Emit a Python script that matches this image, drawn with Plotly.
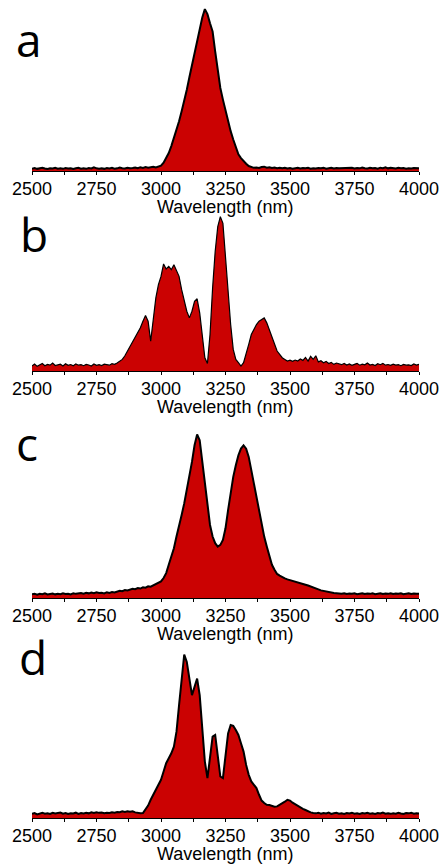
import plotly.graph_objects as go

# wavelength grid (nm), 10 nm spacing
wavelength = list(range(2500, 4001, 10))

tick_vals = [2500, 2750, 3000, 3250, 3500, 3750, 4000]
tick_text = ["2500", "2750", "3000", "3250", "3500", "3750", "4000"]
panel_labels = ["a", "b", "c", "d"]
axis_title = "Wavelength (nm)"

spec_a = [
    0.014, 0.018, 0.013, 0.016, 0.020, 0.015, 0.012, 0.017, 0.015, 0.019,
    0.014, 0.016, 0.013, 0.018, 0.015, 0.017, 0.012, 0.016, 0.019, 0.014,
    0.016, 0.013, 0.018, 0.015, 0.022, 0.016, 0.014, 0.017, 0.013, 0.018,
    0.015, 0.019, 0.014, 0.016, 0.021, 0.017, 0.015, 0.020, 0.016, 0.018,
    0.021, 0.017, 0.023, 0.019, 0.024, 0.020, 0.022, 0.026, 0.021, 0.025,
    0.032, 0.050, 0.078, 0.108, 0.150, 0.198, 0.248, 0.300, 0.360, 0.420,
    0.490, 0.565, 0.640, 0.710, 0.780, 0.850, 0.925, 0.975, 0.945, 0.890,
    0.840, 0.720, 0.600, 0.500, 0.430, 0.360, 0.300, 0.240, 0.190, 0.140,
    0.100, 0.078, 0.058, 0.044, 0.030, 0.022, 0.019, 0.021, 0.018, 0.024,
    0.026, 0.020, 0.022, 0.018, 0.021, 0.017, 0.019, 0.016, 0.020, 0.015,
    0.018, 0.014, 0.017, 0.020, 0.015, 0.018, 0.016, 0.019, 0.014, 0.017,
    0.015, 0.018, 0.016, 0.020, 0.014, 0.017, 0.019, 0.015, 0.018, 0.016,
    0.017, 0.014, 0.019, 0.016, 0.020, 0.015, 0.018, 0.016, 0.021, 0.017,
    0.015, 0.019, 0.016, 0.018, 0.014, 0.020, 0.017, 0.022, 0.016, 0.019,
    0.017, 0.015, 0.019, 0.016, 0.018, 0.014, 0.017, 0.015, 0.018, 0.016,
    0.017,
]

spec_b = [
    0.030, 0.042, 0.028, 0.038, 0.045, 0.032, 0.040, 0.035, 0.048, 0.033,
    0.036, 0.041, 0.030, 0.044, 0.034, 0.039, 0.031, 0.043, 0.035, 0.038,
    0.032, 0.040, 0.036, 0.030, 0.042, 0.034, 0.038, 0.033, 0.041, 0.037,
    0.035, 0.044, 0.040, 0.048, 0.058, 0.070, 0.092, 0.120, 0.150, 0.170,
    0.200, 0.225, 0.260, 0.300, 0.335, 0.300, 0.180, 0.310, 0.440, 0.520,
    0.570, 0.645, 0.615, 0.630, 0.610, 0.640, 0.605, 0.570, 0.490, 0.420,
    0.360, 0.320, 0.360, 0.420, 0.435, 0.350, 0.200, 0.080, 0.045, 0.220,
    0.500, 0.720, 0.870, 0.930, 0.890, 0.680, 0.450, 0.280, 0.130, 0.070,
    0.050, 0.030, 0.050, 0.100, 0.160, 0.220, 0.250, 0.280, 0.300, 0.310,
    0.320, 0.290, 0.250, 0.200, 0.160, 0.120, 0.100, 0.080, 0.070, 0.060,
    0.065, 0.058, 0.066, 0.060, 0.072, 0.064, 0.082, 0.060, 0.088, 0.070,
    0.092, 0.055, 0.062, 0.050, 0.058, 0.045, 0.052, 0.040, 0.048, 0.042,
    0.038, 0.045, 0.036, 0.042, 0.034, 0.040, 0.046, 0.035, 0.041, 0.037,
    0.048, 0.036, 0.040, 0.033, 0.044, 0.038, 0.046, 0.035, 0.039, 0.034,
    0.041, 0.036, 0.038, 0.032, 0.040, 0.035, 0.037, 0.033, 0.042, 0.036,
    0.040,
]

spec_c = [
    0.022, 0.026, 0.020, 0.025, 0.023, 0.028, 0.021, 0.024, 0.027, 0.022,
    0.025, 0.023, 0.028, 0.024, 0.026, 0.022, 0.029, 0.025, 0.027, 0.030,
    0.026, 0.031, 0.028, 0.033, 0.029, 0.034, 0.030, 0.032, 0.028, 0.035,
    0.031, 0.036, 0.033, 0.040, 0.044, 0.041, 0.048, 0.045, 0.052, 0.056,
    0.053, 0.060, 0.057, 0.064, 0.062, 0.070, 0.068, 0.076, 0.080, 0.090,
    0.100, 0.120, 0.150, 0.200, 0.250, 0.300, 0.370, 0.430, 0.500, 0.570,
    0.650, 0.730, 0.820, 0.920, 0.985, 0.950, 0.820, 0.670, 0.550, 0.440,
    0.370, 0.330, 0.310, 0.320, 0.350, 0.420, 0.530, 0.630, 0.730, 0.800,
    0.860, 0.900, 0.920, 0.900, 0.850, 0.770, 0.690, 0.600, 0.520, 0.440,
    0.370, 0.310, 0.260, 0.200, 0.170, 0.145, 0.135, 0.125, 0.118, 0.112,
    0.108, 0.104, 0.098, 0.095, 0.090, 0.086, 0.080, 0.075, 0.068, 0.062,
    0.056, 0.052, 0.046, 0.042, 0.038, 0.035, 0.032, 0.030, 0.029, 0.027,
    0.026, 0.029, 0.024, 0.027, 0.025, 0.028, 0.023, 0.026, 0.029, 0.024,
    0.027, 0.025, 0.029, 0.023, 0.026, 0.028, 0.024, 0.027, 0.025, 0.029,
    0.024, 0.027, 0.025, 0.028, 0.023, 0.026, 0.029, 0.024, 0.027, 0.025,
    0.026,
]

spec_d = [
    0.025, 0.030, 0.022, 0.028, 0.032, 0.026, 0.029, 0.024, 0.031, 0.027,
    0.028, 0.033, 0.026, 0.030, 0.024, 0.029, 0.027, 0.032, 0.025, 0.030,
    0.027, 0.031, 0.028, 0.034, 0.030, 0.035, 0.031, 0.033, 0.029, 0.032,
    0.030, 0.034, 0.032, 0.036, 0.035, 0.040, 0.037, 0.041, 0.038, 0.040,
    0.034, 0.030, 0.028, 0.030, 0.055, 0.075, 0.110, 0.140, 0.170, 0.200,
    0.230, 0.280, 0.330, 0.360, 0.390, 0.430, 0.520, 0.680, 0.850, 0.985,
    0.940, 0.830, 0.740, 0.790, 0.840, 0.740, 0.520, 0.340, 0.240, 0.380,
    0.490, 0.500, 0.370, 0.250, 0.240, 0.380, 0.510, 0.560, 0.555, 0.530,
    0.500, 0.450, 0.400, 0.320, 0.260, 0.220, 0.200, 0.180, 0.140, 0.105,
    0.090, 0.080, 0.078, 0.072, 0.068, 0.070, 0.078, 0.088, 0.098, 0.110,
    0.105, 0.092, 0.082, 0.075, 0.062, 0.055, 0.048, 0.040, 0.034, 0.030,
    0.028, 0.032, 0.026, 0.030, 0.027, 0.033, 0.025, 0.029, 0.031, 0.026,
    0.029, 0.025, 0.030, 0.027, 0.032, 0.026, 0.028, 0.024, 0.030, 0.027,
    0.031, 0.026, 0.029, 0.025, 0.030, 0.027, 0.033, 0.026, 0.028, 0.025,
    0.029, 0.026, 0.031, 0.027, 0.024, 0.030, 0.028, 0.032, 0.026, 0.029,
    0.027,
]

spectra = [spec_a, spec_b, spec_c, spec_d]

W, H = 442, 867
# pixel positions of each panel (top, bottom)
panel_px = [(5, 171), (205, 371), (432, 598), (652, 818)]
x_dom = [32 / W, 419 / W]
line_w = [2.0, 1.2, 2.0, 2.0]
label_pos = [(14, 39), (18, 234), (14, 443), (17, 657)]

fig = go.Figure()
layout = dict(
    width=W, height=H,
    margin=dict(l=0, r=0, t=0, b=0, autoexpand=False),
    paper_bgcolor="white", plot_bgcolor="white",
    showlegend=False,
    font=dict(family="Liberation Sans, Arial, sans-serif", color="black"),
)
annotations = []
for i, spec in enumerate(spectra):
    n = "" if i == 0 else str(i + 1)
    fig.add_trace(go.Scatter(
        x=wavelength, y=spec, mode="lines",
        line=dict(color="black", width=line_w[i]),
        fill="tozeroy", fillcolor="#CB0202",
        xaxis="x" + n, yaxis="y" + n, hoverinfo="skip",
    ))
    top, bot = panel_px[i]
    layout["xaxis" + n] = dict(
        domain=x_dom, anchor="y" + n, range=[2500, 4000],
        tickmode="array", tickvals=tick_vals, ticktext=tick_text,
        ticks="outside", ticklen=3, tickwidth=1, tickcolor="black",
        ticklabelstandoff=-2,
        minor=dict(ticks="outside", ticklen=3, tickwidth=1, tickcolor="black",
                   tickmode="linear", tick0=2500, dtick=125),
        showline=True, linecolor="black", linewidth=1,
        showgrid=False, zeroline=False, automargin=False,
        tickfont=dict(size=18, color="black"),
    )
    layout["yaxis" + n] = dict(
        domain=[1 - bot / H, 1 - top / H], anchor="x" + n, range=[0, 1],
        visible=False, showgrid=False, zeroline=False, automargin=False,
    )
    lx, ly = label_pos[i]
    annotations.append(dict(
        text=panel_labels[i], xref="paper", yref="paper",
        x=lx / W, y=1 - ly / H, xanchor="left", yanchor="middle",
        showarrow=False, font=dict(family="Open Sans", size=46, color="black"),
    ))
    annotations.append(dict(
        text=axis_title, xref="paper", yref="paper",
        x=(225.5) / W, y=1 - (bot + 36) / H, xanchor="center", yanchor="middle",
        showarrow=False, font=dict(size=18, color="black"),
    ))
layout["annotations"] = annotations
fig.update_layout(**layout)
fig.write_html("out.html", config={"displayModeBar": False},
               post_script="document.body.style.margin='0';")
